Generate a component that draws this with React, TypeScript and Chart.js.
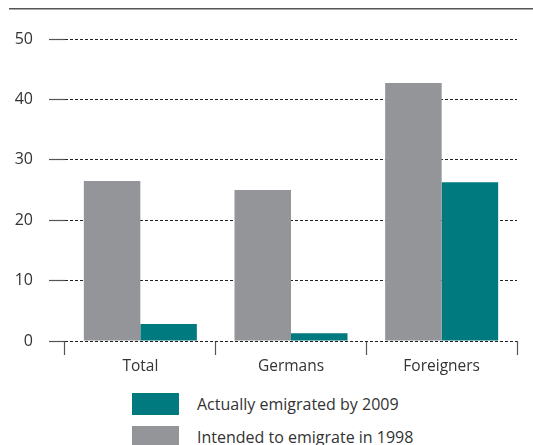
import React, { useEffect, useRef } from "react";
import { Chart, registerables } from "chart.js";

Chart.register(...registerables);

const categories = ["Total", "Germans", "Foreigners"];
const intended1998 = [26.5, 25.0, 42.7];
const emigrated2009 = [2.8, 1.3, 26.3];
const yTicks = [0, 10, 20, 30, 40, 50];
const seriesLabels = ["Intended to emigrate in 1998", "Actually emigrated by 2009"];

const GRAY = "#939598";
const TEAL = "#007a7f";
const TEXT = "#333333";
const FONT = "'Open Sans', 'Noto Sans', sans-serif";

export default function App() {
  const ref = useRef<HTMLCanvasElement | null>(null);

  useEffect(() => {
    if (!ref.current) return;
    const chart = new Chart(ref.current, {
      type: "bar",
      data: {
        labels: categories,
        datasets: [
          {
            label: seriesLabels[0],
            data: intended1998,
            backgroundColor: GRAY,
            borderWidth: 0,
          },
          {
            label: seriesLabels[1],
            data: emigrated2009,
            backgroundColor: TEAL,
            borderWidth: 0,
          },
        ],
      },
      options: {
        animation: false,
        responsive: false,
        maintainAspectRatio: false,
        devicePixelRatio: 1,
        layout: { padding: { top: 39, right: 16, left: 0, bottom: 0 } },
        datasets: {
          bar: { categoryPercentage: 0.75, barPercentage: 1.0 },
        },
        plugins: {
          legend: { display: false },
          tooltip: { enabled: false },
        },
        scales: {
          x: {
            offset: true,
            border: { display: false },
            grid: {
              display: true,
              drawOnChartArea: false,
              drawTicks: true,
              offset: true,
              tickLength: 14,
              tickColor: "#555555",
              tickWidth: 1.2,
            },
            ticks: {
              color: TEXT,
              padding: 2,
              font: { family: FONT, size: 15.5 },
            },
            afterFit: (scale: any) => {
              scale.height = 39;
            },
          },
          y: {
            min: 0,
            max: 50,
            afterBuildTicks: (scale: any) => {
              scale.ticks = yTicks.map((v) => ({ value: v }));
            },
            border: { display: false, dash: [3, 2] },
            grid: {
              color: "#222222",
              lineWidth: 1,
              tickLength: 16,
              tickColor: "#555555",
              tickWidth: 1.2,
              tickBorderDash: [],
            },
            ticks: {
              color: TEXT,
              padding: 16,
              font: { family: FONT, size: 16 },
            },
            afterFit: (scale: any) => {
              scale.width = 65;
            },
          },
        },
      },
    });
    return () => chart.destroy();
  }, []);

  const legendItems = [
    { label: seriesLabels[1], color: TEAL },
    { label: seriesLabels[0], color: GRAY },
  ];

  return (
    <div
      style={{
        position: "fixed",
        left: 0,
        top: 0,
        width: 533,
        height: 445,
        background: "#fff",
        overflow: "hidden",
      }}
    >
      <div
        style={{
          position: "absolute",
          left: 9,
          right: 0,
          top: 8,
          height: 0,
          borderTop: "1px solid #555",
          borderBottom: "1px solid #aaa",
        }}
      />
      <canvas
        ref={ref}
        width={533}
        height={380}
        style={{ position: "absolute", left: 0, top: 0, width: 533, height: 380 }}
      />
      {legendItems.map((it, i) => (
        <div
          key={it.label}
          style={{
            position: "absolute",
            left: 132,
            top: 393 + i * 33,
            height: 22,
            display: "flex",
            alignItems: "center",
            fontFamily: FONT,
            fontSize: 16,
            color: TEXT,
            whiteSpace: "nowrap",
          }}
        >
          <span
            style={{
              display: "inline-block",
              width: 47,
              height: 22,
              background: it.color,
              marginRight: 18,
            }}
          />
          <span>{it.label}</span>
        </div>
      ))}
    </div>
  );
}
